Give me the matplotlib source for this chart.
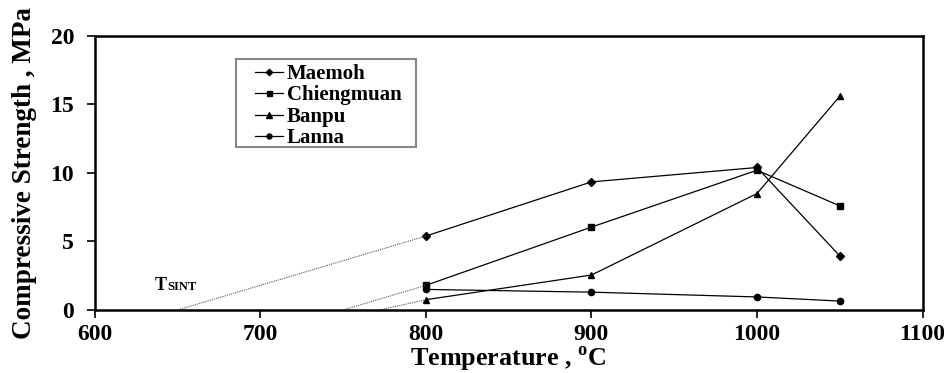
import numpy as np
import matplotlib
matplotlib.use("Agg")
import matplotlib.pyplot as plt
from matplotlib.patches import Rectangle

plt.rcParams['font.family'] = ['Liberation Serif', 'DejaVu Serif']
plt.rcParams['font.weight'] = 'bold'
plt.rcParams['mathtext.fontset'] = 'custom'
plt.rcParams['mathtext.rm'] = 'Liberation Serif:bold'
plt.rcParams['mathtext.bf'] = 'Liberation Serif:bold'

# firing temperature, deg C
temps = [800, 900, 1000, 1050]

# compressive strength, MPa
maemoh = [5.4, 9.35, 10.4, 3.95]
chiengmuan = [1.8, 6.05, 10.2, 7.6]
banpu = [0.75, 2.55, 8.5, 15.6]
lanna = [1.5, 1.3, 0.95, 0.65]

# extrapolated sintering onset temperatures (strength -> 0)
t_sint = {"Maemoh": 650, "Chiengmuan": 750, "Banpu": 772}

series = [("Maemoh", maemoh, "D", 4),
          ("Chiengmuan", chiengmuan, "s", 4.5),
          ("Banpu", banpu, "^", 5),
          ("Lanna", lanna, "o", 4.5)]

fig = plt.figure(figsize=(9.45, 3.73), dpi=100)
ax = fig.add_axes([0.1005, 0.169, 0.8757, 0.7345])

for name, vals, mk, ms in series:
    ax.plot(temps, vals, color='black', lw=0.9, marker=mk, ms=ms,
            mfc='black', mec='black', label=name)
    if name in t_sint:
        ax.plot([t_sint[name], temps[0]], [0, vals[0]], color='#555555',
                lw=0.8, ls=(0, (1, 1)))

ax.text(636, 1.45, "T", fontsize=13, fontweight='bold', ha='left', va='baseline')
ax.text(643.5, 1.45, "SINT", fontsize=9, fontweight='bold', ha='left', va='baseline')

ax.set_xlim(600, 1100)
ax.set_ylim(0, 20)
ax.set_xticks([600, 700, 800, 900, 1000, 1100])
ax.set_yticks([0, 5, 10, 15, 20])
ax.tick_params(direction='out', length=6, width=1.2, labelsize=17)
ax.tick_params(axis='x', pad=4)
ax.tick_params(axis='y', pad=9)
for lab in ax.get_xticklabels() + ax.get_yticklabels():
    lab.set_fontweight('bold')
for sp in ax.spines.values():
    sp.set_linewidth(1.8)

ax.set_xlabel(r"Temperature , $^{\mathrm{o}}$C", fontsize=18.8, fontweight='bold', labelpad=0)
ax.set_ylabel("Compressive Strength , MPa", fontsize=19.5, fontweight='bold', labelpad=10)

# legend entries without frame, box drawn separately
leg = ax.legend(loc='upper left', bbox_to_anchor=(0.193, 0.898), fontsize=15,
                frameon=False, handlelength=1.35, handletextpad=0.2,
                labelspacing=0.07, borderpad=0.0, borderaxespad=0.0,
                markerscale=0.8)
for t in leg.get_texts():
    t.set_fontweight('bold')
ax.add_patch(Rectangle((0.170, 0.595), 0.2174, 0.321, transform=ax.transAxes,
                       fill=False, edgecolor='#888888', lw=1.5, zorder=5))

fig.savefig("out.png", dpi=100)
